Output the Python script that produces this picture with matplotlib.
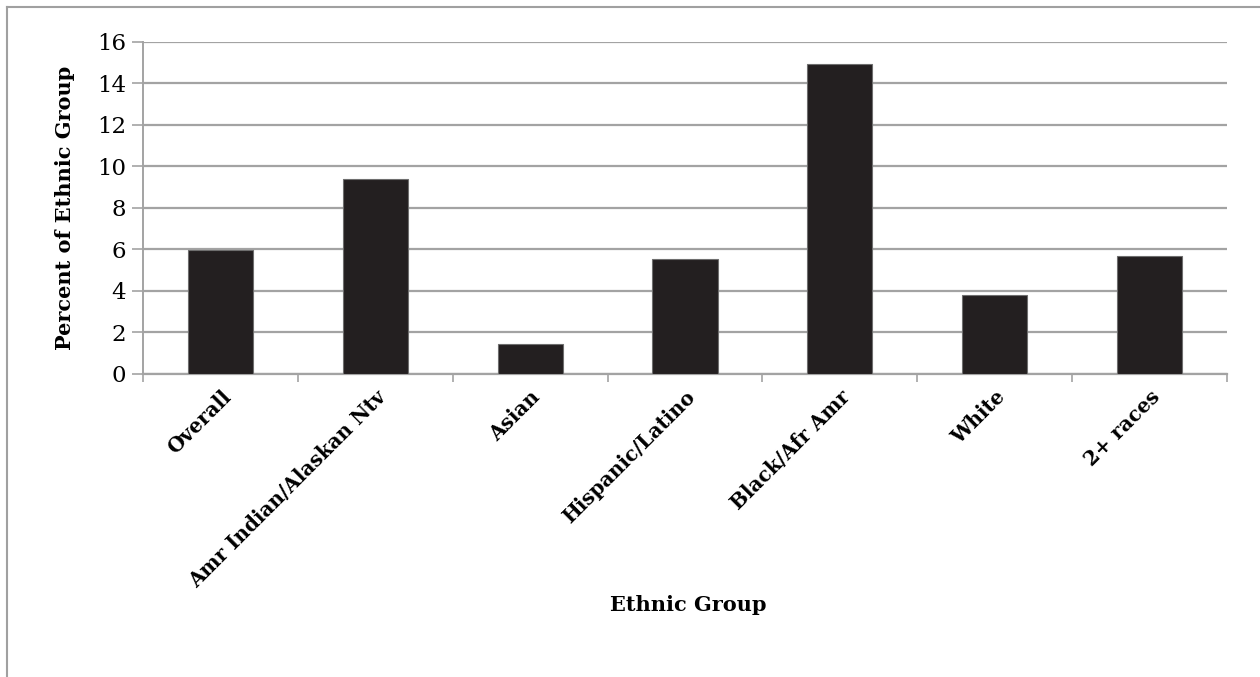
import matplotlib.pyplot as plt
from matplotlib.lines import Line2D
import numpy as np

# data
groups = ['Overall', 'Amr Indian/Alaskan Ntv', 'Asian', 'Hispanic/Latino',
          'Black/Afr Amr', 'White', '2+ races']
percent = [5.95, 9.4, 1.45, 5.56, 14.95, 3.78, 5.69]
yticks = [0, 2, 4, 6, 8, 10, 12, 14, 16]

plt.rcParams['font.family'] = ['DejaVu Serif']

fig = plt.figure(figsize=(12.6, 6.77), dpi=100)
ax = fig.add_axes([0.1135, 0.4476, 0.8603, 0.4908])

grid_col = '#a3a3a3'
x = np.arange(len(groups))
ax.bar(x, percent, width=0.42, color='#231f20', edgecolor='#6e6e6e',
       linewidth=0.8, zorder=3)

ax.set_xlim(-0.5, len(groups) - 0.5)
ax.set_ylim(0, 16)
ax.set_yticks(yticks)
ax.set_yticklabels([str(v) for v in yticks], fontsize=16.5)

# x ticks sit on the category boundaries, labels on the bar centres
ax.set_xticks(np.arange(len(groups) + 1) - 0.5)
ax.set_xticklabels([])
ax.set_xticks(x, minor=True)
ax.set_xticklabels(groups, minor=True, rotation=45, ha='right',
                   rotation_mode='anchor', fontsize=14.4, fontweight='bold')
ax.tick_params(axis='x', which='minor', length=0, pad=9)
ax.tick_params(axis='x', which='major', length=6, width=1.2, color=grid_col)
ax.tick_params(axis='y', length=8, width=1.2, color=grid_col, pad=4)

ax.yaxis.grid(True, color=grid_col, linewidth=1.6, zorder=0)
ax.set_axisbelow(True)
for s in ['top', 'right']:
    ax.spines[s].set_visible(False)
ax.spines['left'].set_color(grid_col)
ax.spines['left'].set_linewidth(1.4)
ax.spines['bottom'].set_color(grid_col)
ax.spines['bottom'].set_linewidth(1.6)

ax.set_ylabel('Percent of Ethnic Group', fontsize=15, fontweight='bold',
              labelpad=16)
fig.text(0.546, 0.106, 'Ethnic Group', ha='center', va='center',
         fontsize=15, fontweight='bold')

# outer frame of the chart area (left and top edges visible)
fig.add_artist(Line2D([7 / 1260, 7 / 1260], [0, 1 - 7 / 677],
                      color='#a0a0a0', linewidth=1.5))
fig.add_artist(Line2D([7 / 1260, 1], [1 - 7 / 677, 1 - 7 / 677],
                      color='#a0a0a0', linewidth=1.5))

fig.savefig('out.png', dpi=100, facecolor='white')
